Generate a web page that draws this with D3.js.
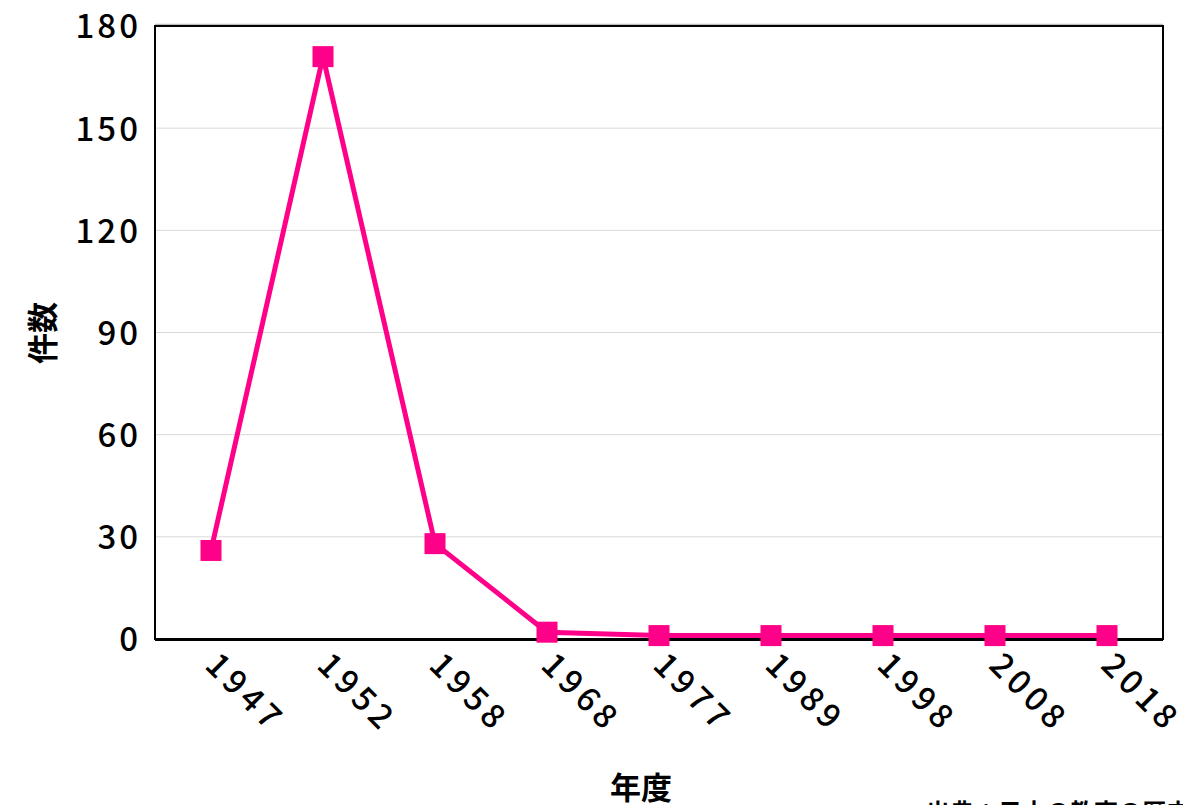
<!DOCTYPE html>
<html><head><meta charset="utf-8">
<script src="https://cdn.jsdelivr.net/npm/d3@7"></script>
<style>
html,body{margin:0;padding:0;background:#fff;overflow:hidden;}
svg{display:block;}
</style></head>
<body>
<svg id="chart" width="1183" height="805"></svg>
<script>
const years = ["1947","1952","1958","1968","1977","1989","1998","2008","2018"];
const counts = [26, 171, 28, 2, 1, 1, 1, 1, 1];
const yTicks = [0, 30, 60, 90, 120, 150, 180];
const yTitle = "件数";
const xTitle = "年度";
const source = "出典：日本の教育の歴史";

const W = 1183, H = 805;
const m = {left:155, right:20, top:26, bottom:166};
const iw = W - m.left - m.right, ih = H - m.top - m.bottom;
const color = "#ff0088";
const numFont = "'Noto Sans CJK JP', 'Noto Sans', sans-serif";

const svg = d3.select("#chart");
const g = svg.append("g").attr("transform", `translate(${m.left},${m.top})`);

const x = d3.scalePoint().domain(years).range([0, iw]).padding(0.5);
const y = d3.scaleLinear().domain([0, 180]).range([ih, 0]);

// gridlines
g.append("g").selectAll("line").data(yTicks.filter(t => t > 0 && t < 180)).join("line")
  .attr("x1", 0).attr("x2", iw)
  .attr("y1", d => y(d)).attr("y2", d => y(d))
  .attr("stroke", "#d9d9d9").attr("stroke-width", 1);

// frame
g.append("line").attr("x1",0).attr("x2",iw).attr("y1",-1.5).attr("y2",-1.5).attr("stroke","#bbb").attr("stroke-width",1.5);
g.append("rect").attr("x",0).attr("y",0).attr("width",iw).attr("height",ih)
  .attr("fill","none").attr("stroke","#000").attr("stroke-width",2);
g.append("line").attr("x1",0).attr("x2",iw).attr("y1",ih+0.5).attr("y2",ih+0.5).attr("stroke","#000").attr("stroke-width",3);

// y axis
const yAxis = g.append("g").call(d3.axisLeft(y).tickValues(yTicks).tickSize(0).tickPadding(14));
yAxis.select(".domain").remove();
yAxis.selectAll("text")
  .attr("font-family", numFont).attr("font-size", 33).attr("font-weight", 500)
  .attr("letter-spacing", "3px").attr("fill", "#000").attr("dy", "0.36em");

// x axis
const xAxis = g.append("g").attr("transform", `translate(0,${ih})`)
  .call(d3.axisBottom(x).tickSize(0).tickPadding(0));
xAxis.select(".domain").remove();
xAxis.selectAll("text")
  .attr("font-family", numFont).attr("font-size", 33).attr("font-weight", 500)
  .attr("letter-spacing", "5px").attr("fill", "#000")
  .attr("text-anchor", "start").attr("dy", "0")
  .attr("transform", "translate(-8,28) rotate(45)");

// line
g.append("path").datum(counts.map((v,i)=>({k:years[i], v})))
  .attr("fill","none").attr("stroke", color).attr("stroke-width", 5).attr("stroke-linejoin","miter")
  .attr("d", d3.line().x(d => x(d.k)).y(d => y(d.v)));

// markers
const s = 21;
g.append("g").selectAll("rect").data(counts.map((v,i)=>({k:years[i], v}))).join("rect")
  .attr("x", d => x(d.k) - s/2).attr("y", d => y(d.v) - s/2)
  .attr("width", s).attr("height", s).attr("fill", color);

// titles
svg.append("text").attr("transform", "translate(40,333) rotate(-90)")
  .attr("text-anchor","middle").attr("dominant-baseline","central")
  .attr("font-family","'Noto Sans CJK JP', sans-serif").attr("font-weight",700).attr("font-size",31)
  .text(yTitle);
svg.append("text").attr("x", 641).attr("y", 799)
  .attr("text-anchor","middle")
  .attr("font-family","'Noto Sans CJK JP', sans-serif").attr("font-weight",700).attr("font-size",31)
  .text(xTitle);
svg.append("text").attr("x", 926).attr("y", 821)
  .attr("font-family","'Noto Sans CJK JP', sans-serif").attr("font-weight",700).attr("font-size",24)
  .text(source);
</script>
</body></html>
